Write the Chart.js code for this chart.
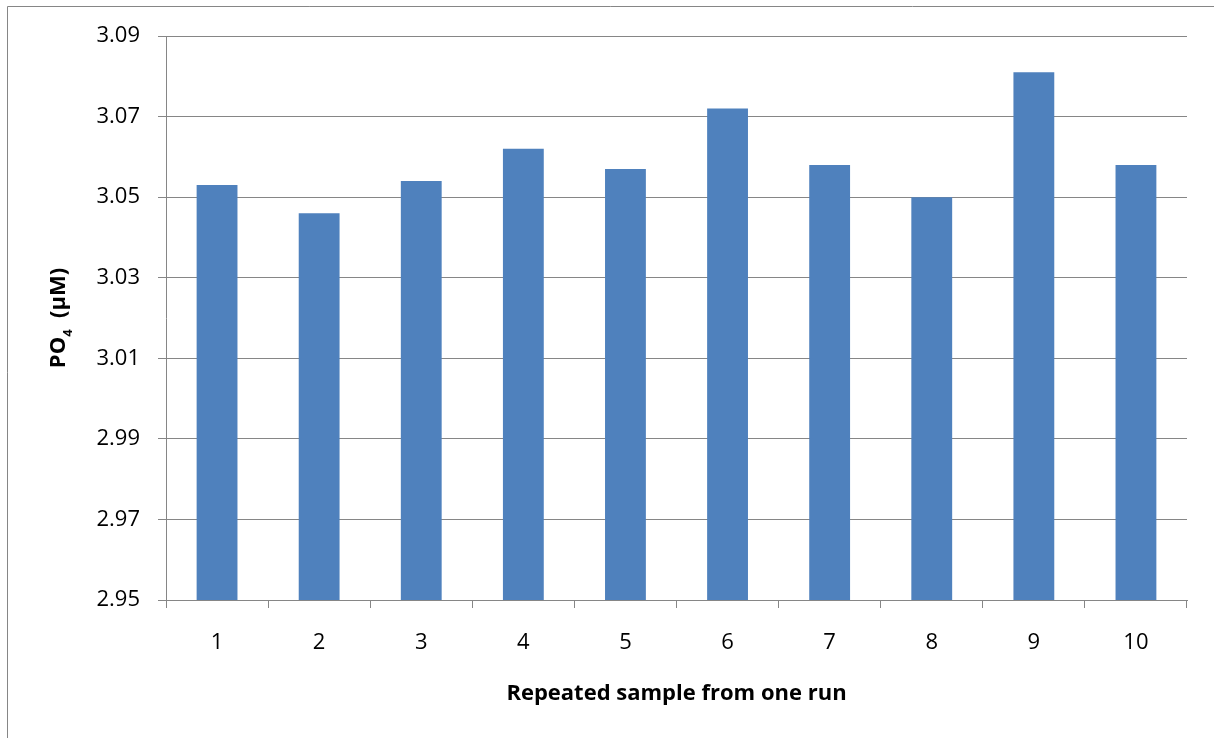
<!DOCTYPE html>
<html>
<head>
<meta charset="utf-8">
<script src="https://cdn.jsdelivr.net/npm/chart.js@4.4.1/dist/chart.umd.min.js"></script>
<style>
  html, body { margin: 0; padding: 0; background: #ffffff; }
  #wrap { width: 1214px; height: 738px; }
</style>
</head>
<body>
<div id="wrap"><canvas id="c" width="1214" height="738"></canvas></div>
<script>
// ---- data ----
const categories = ["1", "2", "3", "4", "5", "6", "7", "8", "9", "10"];
const po4Values = [3.053, 3.046, 3.054, 3.062, 3.057, 3.072, 3.058, 3.050, 3.081, 3.058];
const yTickValues = [2.95, 2.97, 2.99, 3.01, 3.03, 3.05, 3.07, 3.09];
const xTitle = "Repeated sample from one run";
const yTitleMain = "PO";
const yTitleSub = "4";
const yTitleRest = "  (\u00B5M)";

const FONT = "'Open Sans', 'Liberation Sans', sans-serif";
const GRID = "#868686";

const framePlugin = {
  id: 'frame',
  beforeDraw(chart) {
    const ctx = chart.ctx;
    ctx.save();
    ctx.fillStyle = '#ffffff';
    ctx.fillRect(0, 0, chart.width, chart.height);
    ctx.strokeStyle = GRID;
    ctx.lineWidth = 1;
    ctx.beginPath();
    ctx.moveTo(7.5, chart.height);
    ctx.lineTo(7.5, 6.5);
    ctx.lineTo(chart.width, 6.5);
    ctx.stroke();
    ctx.restore();
  },
  afterDraw(chart) {
    // y axis title with subscript
    const ctx = chart.ctx;
    const area = chart.chartArea;
    ctx.save();
    const mainFont = "bold 22px " + FONT;
    const subFont = "bold 13px " + FONT;
    ctx.font = mainFont;
    const w1 = ctx.measureText(yTitleMain).width;
    const w3 = ctx.measureText(yTitleRest).width;
    ctx.font = subFont;
    const w2 = ctx.measureText(yTitleSub).width;
    const total = w1 + w2 + w3;
    const cy = (area.top + area.bottom) / 2;
    ctx.translate(65, cy);
    ctx.rotate(-Math.PI / 2);
    ctx.fillStyle = '#000000';
    ctx.textBaseline = 'alphabetic';
    ctx.textAlign = 'left';
    let x = -total / 2;
    ctx.font = mainFont;
    ctx.fillText(yTitleMain, x, 0);
    x += w1;
    ctx.font = subFont;
    ctx.fillText(yTitleSub, x, 7);
    x += w2;
    ctx.font = mainFont;
    ctx.fillText(yTitleRest, x, 0);
    ctx.restore();
  }
};

new Chart(document.getElementById('c'), {
  type: 'bar',
  data: {
    labels: categories,
    datasets: [{
      data: po4Values,
      backgroundColor: '#4F81BD',
      borderWidth: 0,
      barPercentage: 0.4,
      categoryPercentage: 1.0
    }]
  },
  options: {
    responsive: false,
    animation: false,
    devicePixelRatio: 1,
    layout: { padding: { left: 0, right: 27, top: 36, bottom: 0 } },
    plugins: { legend: { display: false }, tooltip: { enabled: false } },
    scales: {
      x: {
        type: 'category',
        offset: true,
        grid: { offset: true, drawOnChartArea: false, drawTicks: true, tickLength: 8, color: GRID, lineWidth: 1 },
        border: { display: true, color: GRID, width: 1 },
        ticks: { color: '#000000', font: { family: FONT, size: 22 }, padding: 22, maxRotation: 0 },
        title: { display: true, text: xTitle, color: '#000000', font: { family: FONT, size: 22, weight: 'bold' }, padding: { top: 0, bottom: 31 } },
        afterFit(scale) { scale.height = 138; }
      },
      y: {
        min: 2.95,
        max: 3.09,
        grid: { color: GRID, lineWidth: 1, drawTicks: true, tickLength: 8 },
        border: { display: true, color: GRID, width: 1 },
        ticks: {
          color: '#000000',
          font: { family: FONT, size: 22 },
          padding: 18,
          callback: (v) => Number(v).toFixed(2)
        },
        afterBuildTicks(scale) { scale.ticks = yTickValues.map(v => ({ value: v })); },
        afterFit(scale) { scale.width = 166; }
      }
    }
  },
  plugins: [framePlugin]
});
</script>
</body>
</html>
